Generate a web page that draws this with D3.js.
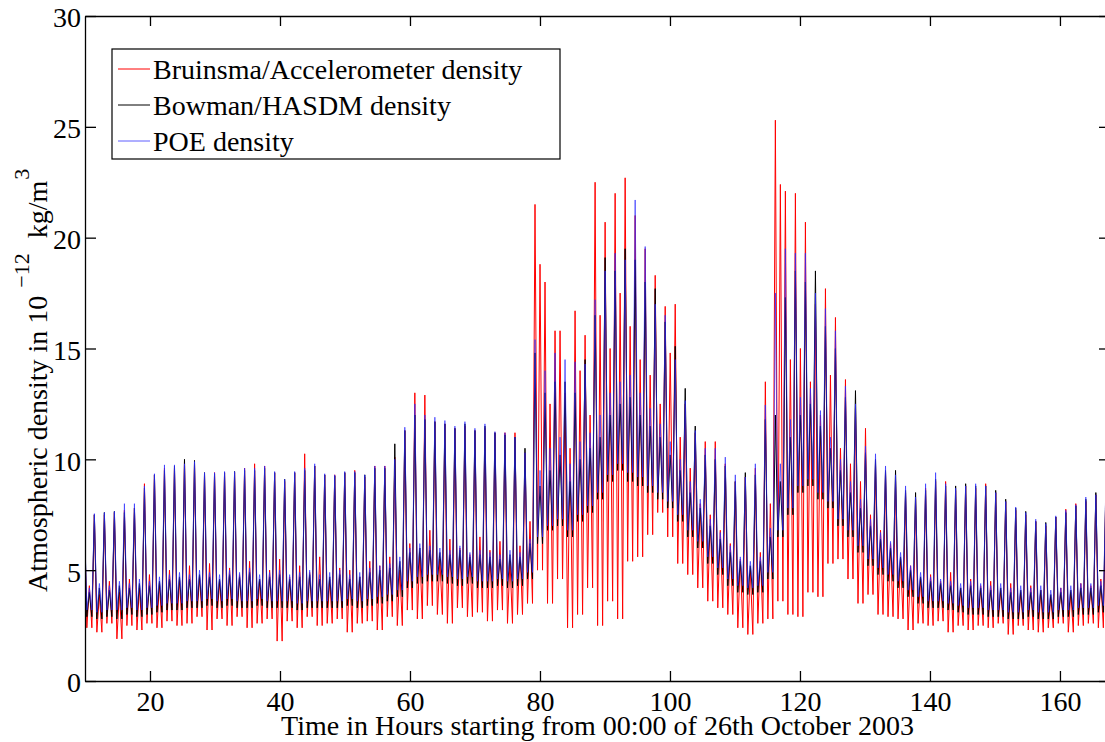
<!DOCTYPE html>
<html>
<head>
<meta charset="utf-8">
<script src="https://cdn.jsdelivr.net/npm/d3@7/dist/d3.min.js"></script>
<style>
  body { margin: 0; background: #fff; }
  svg { display: block; font-family: "Liberation Serif", "Times New Roman", serif; }
  .axis path, .axis line { stroke: #000; stroke-width: 1.3; }
  .axis text { font-size: 28px; fill: #000; font-family: "Liberation Serif", serif; }
</style>
</head>
<body>
<div id="chart"></div>
<script>
// DATA
////////////////////////////
// one value per orbit (CHAMP, ~92 min)
var firstPeak = 9.9,      // hours, time of first orbit peak
    orbitPeriod = 1.5408; // hours

// Bruinsma / accelerometer (red)
var accelPeak = [
  7.5, 7.5, 7.5, 7.6, 7.7, 7.8, 8.9, 9.3, 9.6, 9.6,
  9.9, 9.8, 9.3, 9.4, 9.4, 9.4, 9.6, 9.8, 9.7, 9.4,
  9.0, 9.4, 10.25, 9.7, 9.3, 9.3, 9.4, 9.5, 9.2, 9.7,
  9.7, 10.1, 11.3, 13.0, 12.9, 11.7, 11.6, 11.4, 11.5, 11.3,
  11.4, 11.2, 11.2, 11.2, 10.3, 21.5, 18.0, 15.8, 13.0, 16.7,
  15.6, 22.5, 20.7, 22.0, 22.7, 21.0, 19.5, 18.3, 16.9, 17.0,
  12.5, 11.2, 10.8, 10.8, 9.8, 9.0, 9.2, 9.6, 13.5, 25.3,
  22.1, 22.0, 20.7, 17.0, 17.7, 16.4, 13.6, 12.3, 11.4, 9.8,
  9.4, 9.0, 8.5, 8.2, 8.7, 9.0, 9.0, 8.6, 8.8, 8.7,
  8.9, 8.5, 8.1, 7.7, 7.5, 7.2, 7.0, 7.4, 7.75, 8.0,
  8.1, 8.4, 8.6];
var accelLow = [
  2.4, 2.2, 2.6, 1.9, 2.5, 2.3, 2.6, 2.4, 2.7, 2.5,
  2.6, 2.9, 2.3, 2.8, 2.5, 2.9, 2.4, 2.6, 2.8, 1.8,
  2.7, 2.4, 2.9, 2.5, 2.6, 2.8, 2.2, 2.6, 2.7, 2.3,
  2.9, 2.5, 3.2, 2.8, 3.4, 3.0, 2.6, 3.3, 2.9, 3.1,
  2.7, 3.2, 2.6, 3.0, 3.5, 5.0, 3.5, 4.6, 2.4, 3.0,
  4.2, 2.5, 3.6, 2.8, 5.4, 5.6, 6.6, 7.6, 6.5, 5.3,
  4.8, 4.2, 3.6, 3.3, 3.0, 2.4, 2.1, 2.6, 2.8, 3.6,
  3.0, 2.9, 4.0, 3.8, 5.3, 5.5, 4.6, 3.5, 3.9, 3.0,
  2.9, 2.8, 2.3, 2.6, 2.5, 2.7, 2.2, 2.5, 2.3, 2.5,
  2.4, 2.6, 2.1, 2.5, 2.3, 2.2, 2.4, 2.6, 2.2, 2.5,
  2.6, 2.4, 2.7];
var accelBump = [
  4.3, 3.9, 4.5, 4.0, 4.6, 4.2, 4.8, 4.4, 5.0, 4.6,
  5.2, 4.7, 5.3, 4.5, 5.1, 4.8, 5.4, 4.6, 5.0, 5.5,
  4.7, 5.2, 4.9, 5.6, 4.6, 5.1, 5.0, 4.7, 5.4, 5.2,
  5.6, 5.0, 6.2, 5.8, 6.8, 5.5, 6.4, 6.0, 5.7, 6.5,
  5.9, 6.3, 5.4, 6.1, 7.2, 18.8, 12.5, 15.8, 10.5, 14.0,
  12.0, 16.5, 15.0, 17.5, 16.0, 14.5, 13.8, 12.5, 14.8, 11.0,
  9.6, 8.0, 7.5, 6.8, 6.2, 5.5, 5.0, 5.8, 8.0, 22.4,
  14.5, 15.0, 13.5, 12.0, 13.8, 10.5, 9.8, 9.0, 7.5, 6.8,
  6.2, 5.5, 5.2, 4.6, 4.8, 4.5, 4.9, 4.2, 4.6, 4.3,
  4.5, 4.1, 4.4, 4.0, 4.3, 4.1, 3.8, 4.2, 4.0, 4.4,
  4.3, 4.6, 4.4];

// Bowman / HASDM (black)
var hasdmPeak = [
  7.4, 7.5, 7.6, 7.65, 7.6, 7.8, 8.7, 9.3, 9.5, 9.7,
  10.0, 9.95, 9.4, 9.35, 9.4, 9.45, 9.5, 9.5, 9.6, 9.4,
  9.1, 9.4, 9.5, 9.7, 9.3, 9.25, 9.4, 9.4, 9.3, 9.6,
  9.6, 10.7, 11.3, 12.0, 11.8, 11.7, 11.6, 11.4, 11.6, 11.3,
  11.5, 11.2, 11.1, 11.0, 10.5, 14.8, 13.0, 13.5, 13.5, 13.0,
  14.5, 16.5, 19.1, 18.5, 19.5, 19.0, 18.0, 17.7, 16.2, 15.1,
  13.2, 11.5, 10.2, 10.0, 9.7, 9.0, 9.4, 9.3, 11.8, 12.0,
  17.3, 18.5, 18.0, 18.5, 16.0, 15.0, 12.8, 13.1, 10.3, 10.0,
  9.5, 9.5, 8.6, 8.5, 8.6, 9.1, 8.8, 8.8, 8.9, 8.8,
  8.8, 8.6, 8.2, 7.8, 7.65, 7.2, 7.15, 7.4, 7.6, 7.9,
  8.2, 8.5, 8.7];
var hasdmLow = [
  2.9, 2.8, 2.9, 2.8, 3.0, 2.9, 3.0, 3.1, 3.2, 3.2,
  3.3, 3.3, 3.4, 3.3, 3.4, 3.3, 3.3, 3.4, 3.3, 3.3,
  3.3, 3.2, 3.3, 3.3, 3.3, 3.3, 3.4, 3.3, 3.4, 3.5,
  3.6, 3.8, 4.2, 4.4, 4.5, 4.5, 4.4, 4.3, 4.4, 4.2,
  4.2, 4.3, 4.2, 4.3, 4.6, 6.2, 6.8, 7.0, 6.5, 7.2,
  7.6, 8.2, 9.0, 9.5, 9.0, 8.8, 8.5, 8.2, 7.8, 7.2,
  6.5, 6.0, 5.3, 4.8, 4.3, 4.0, 3.9, 4.0, 4.6, 6.5,
  7.5, 8.5, 8.8, 8.2, 7.8, 7.0, 6.5, 5.8, 5.2, 4.8,
  4.5, 4.2, 3.8, 3.5, 3.3, 3.3, 3.2, 3.1, 3.0, 3.0,
  2.9, 2.9, 2.8, 2.8, 2.9, 2.8, 2.8, 2.9, 2.9, 3.0,
  3.0, 3.1, 3.1];
var hasdmBump = [
  4.0, 4.2, 4.1, 4.3, 4.2, 4.4, 4.3, 4.5, 4.6, 4.7,
  4.6, 4.8, 4.7, 4.6, 4.8, 4.7, 4.9, 4.6, 4.7, 4.8,
  4.6, 4.7, 4.8, 4.6, 4.7, 4.8, 4.6, 4.7, 4.9, 5.0,
  5.1, 5.4, 5.8, 6.0, 5.9, 5.8, 5.7, 5.9, 5.6, 5.7,
  5.6, 5.5, 5.7, 5.6, 6.2, 8.8, 9.5, 10.2, 9.0, 10.0,
  10.5, 11.0, 12.0, 12.5, 12.8, 12.0, 11.5, 11.0, 10.2, 9.5,
  8.5, 7.8, 7.0, 6.4, 5.8, 5.4, 5.2, 5.4, 6.5, 9.0,
  11.0, 12.0, 12.5, 11.5, 10.5, 9.5, 8.5, 7.8, 7.0, 6.4,
  6.0, 5.6, 5.0, 4.7, 4.5, 4.4, 4.3, 4.2, 4.3, 4.2,
  4.1, 4.2, 4.0, 4.1, 4.0, 4.1, 3.9, 4.0, 4.1, 4.2,
  4.2, 4.3, 4.3];

// POE (blue)
var poePeak = [
  7.45, 7.55, 7.6, 7.65, 8.0, 8.0, 8.8, 9.35, 9.75, 9.75,
  9.8, 9.9, 9.4, 9.4, 9.45, 9.45, 9.6, 9.6, 9.7, 9.45,
  9.1, 9.45, 9.6, 9.8, 9.35, 9.3, 9.45, 9.45, 9.3, 9.7,
  9.7, 10.0, 11.45, 12.5, 12.0, 11.9, 11.75, 11.5, 11.7, 11.4,
  11.6, 11.25, 11.2, 11.0, 10.3, 15.4, 14.0, 14.8, 14.5, 14.4,
  14.3, 17.2, 18.5, 19.3, 19.0, 21.7, 19.6, 17.0, 16.5, 14.5,
  12.65, 11.3, 10.5, 10.5, 10.1, 9.3, 9.2, 9.8, 12.45, 17.5,
  19.5, 19.3, 19.3, 17.5, 16.8, 15.8, 13.3, 12.5, 10.6, 10.25,
  9.7, 9.3, 8.8, 8.3, 8.9, 9.4, 8.9, 8.7, 8.8, 8.9,
  8.8, 8.5, 8.1, 7.85, 7.6, 7.3, 7.1, 7.45, 7.7, 7.95,
  8.3, 8.4, 8.8];
var poeLow = [
  3.2, 3.1, 3.2, 3.2, 3.3, 3.2, 3.3, 3.4, 3.5, 3.5,
  3.6, 3.6, 3.7, 3.6, 3.7, 3.6, 3.6, 3.7, 3.6, 3.6,
  3.6, 3.5, 3.6, 3.6, 3.6, 3.6, 3.7, 3.6, 3.7, 3.8,
  3.9, 4.1, 4.5, 4.7, 4.8, 4.8, 4.7, 4.6, 4.7, 4.5,
  4.5, 4.6, 4.5, 4.6, 4.9, 6.5, 7.0, 7.3, 6.8, 7.5,
  7.9, 8.5, 9.3, 9.8, 9.4, 9.2, 8.8, 8.5, 8.1, 7.5,
  6.8, 6.3, 5.6, 5.1, 4.6, 4.3, 4.2, 4.3, 4.9, 6.8,
  7.8, 8.8, 9.1, 8.5, 8.1, 7.3, 6.8, 6.1, 5.5, 5.1,
  4.8, 4.5, 4.1, 3.8, 3.6, 3.6, 3.5, 3.4, 3.3, 3.3,
  3.2, 3.2, 3.1, 3.1, 3.2, 3.1, 3.1, 3.2, 3.2, 3.3,
  3.3, 3.4, 3.4];
var poeBump = [
  4.2, 4.4, 4.3, 4.5, 4.4, 4.6, 4.5, 4.7, 4.8, 4.9,
  4.8, 5.0, 4.9, 4.8, 5.0, 4.9, 5.1, 4.8, 4.9, 5.0,
  4.8, 4.9, 5.0, 4.8, 4.9, 5.0, 4.8, 4.9, 5.1, 5.2,
  5.3, 5.6, 6.0, 6.2, 6.1, 6.0, 5.9, 6.1, 5.8, 5.9,
  5.8, 5.7, 5.9, 5.8, 6.4, 9.5, 10.5, 11.0, 9.8, 10.8,
  11.2, 12.0, 13.0, 13.5, 13.8, 13.0, 12.3, 11.6, 10.8, 10.0,
  9.0, 8.2, 7.3, 6.7, 6.1, 5.6, 5.4, 5.6, 6.9, 9.8,
  11.8, 12.8, 13.2, 12.2, 11.0, 10.0, 9.0, 8.2, 7.3, 6.7,
  6.3, 5.8, 5.2, 4.9, 4.7, 4.6, 4.5, 4.4, 4.5, 4.4,
  4.3, 4.4, 4.2, 4.3, 4.2, 4.3, 4.1, 4.2, 4.3, 4.4,
  4.4, 4.5, 4.5];

var seriesNames = ["Bruinsma/Accelerometer density", "Bowman/HASDM density", "POE density"];
var seriesColors = ["#ff0000", "#000000", "#2a2aff"];
var seriesOpacity = [1, 1, 0.75];
var xTicks = [20, 40, 60, 80, 100, 120, 140, 160];
var yTicks = [0, 5, 10, 15, 20, 25, 30];
var xLabel = "Time in Hours starting from 00:00 of 26th October 2003";

// SETUP
////////////////////////////
var width = 1105, height = 742;
var plotL = 85, plotR = 1110, plotT = 16, plotB = 681;   // right edge falls just off the page

var svg = d3.select("#chart").append("svg")
    .attr("width", width)
    .attr("height", height);

var x = d3.scaleLinear().domain([10, 167.7]).range([plotL, plotR]);
var y = d3.scaleLinear().domain([0, 30]).range([plotB, plotT]);

svg.append("clipPath").attr("id", "plotclip")
  .append("rect")
    .attr("x", plotL).attr("y", plotT)
    .attr("width", plotR - plotL).attr("height", plotB - plotT);

// each orbit: peak, low, mid-orbit bump, low
function orbitPoints(peak, low, bump) {
  var pts = [];
  peak.forEach(function(p, i) {
    var t = firstPeak + i * orbitPeriod;
    pts.push([t, p]);
    pts.push([t + 0.25 * orbitPeriod, low[i]]);
    pts.push([t + 0.5 * orbitPeriod, bump[i]]);
    pts.push([t + 0.75 * orbitPeriod, low[i]]);
  });
  return pts;
}

var series = [
  orbitPoints(accelPeak, accelLow, accelBump),
  orbitPoints(hasdmPeak, hasdmLow, hasdmBump),
  orbitPoints(poePeak, poeLow, poeBump)
];

var line = d3.line()
    .x(function(d) { return x(d[0]); })
    .y(function(d) { return y(d[1]); });

svg.append("g").attr("clip-path", "url(#plotclip)")
  .selectAll("path")
  .data(series)
  .enter().append("path")
    .attr("d", line)
    .attr("fill", "none")
    .attr("stroke", function(d, i) { return seriesColors[i]; })
    .attr("stroke-width", function(d, i) { return i == 2 ? 0.9 : 1; })
    .attr("stroke-opacity", function(d, i) { return seriesOpacity[i]; });

// AXES (matlab box, ticks pointing in)
////////////////////////////
svg.append("g").attr("class", "axis")
    .attr("transform", "translate(0," + plotB + ")")
    .call(d3.axisBottom(x).tickValues(xTicks).tickSizeInner(-10).tickSizeOuter(0).tickPadding(10));

svg.append("g").attr("class", "axis")
    .attr("transform", "translate(0," + plotT + ")")
    .call(d3.axisTop(x).tickValues(xTicks).tickSizeInner(-10).tickSizeOuter(0).tickFormat(""));

svg.append("g").attr("class", "axis")
    .attr("transform", "translate(" + plotL + ",0)")
    .call(d3.axisLeft(y).tickValues(yTicks).tickSizeInner(-11).tickSizeOuter(0).tickPadding(4))
  .selectAll("text").attr("dy", "0.39em");

svg.append("g").attr("class", "axis")
    .attr("transform", "translate(" + plotR + ",0)")
    .call(d3.axisRight(y).tickValues(yTicks).tickSizeInner(-11).tickSizeOuter(0).tickFormat(""));

// LABELS
////////////////////////////
svg.append("text")
    .attr("x", (plotL + plotR) / 2)
    .attr("y", 735)
    .attr("text-anchor", "middle")
    .attr("font-size", 28)
    .text(xLabel);

var ylab = svg.append("text")
    .attr("transform", "translate(47,592) rotate(-90)")
    .attr("text-anchor", "start")
    .attr("font-size", 28);
ylab.append("tspan").text("Atmospheric density in 10");
ylab.append("tspan").attr("dy", -18).attr("dx", 8).attr("font-size", 22).text("\u221212");
ylab.append("tspan").attr("dy", 18).attr("dx", 8).text(" kg/m");
ylab.append("tspan").attr("dy", -18).attr("dx", 1).attr("font-size", 22).text("3");

// LEGEND
////////////////////////////
var legend = svg.append("g").attr("transform", "translate(112,49)");
legend.append("rect")
    .attr("width", 448).attr("height", 110)
    .attr("fill", "#fff").attr("stroke", "#000").attr("stroke-width", 1.2);

var rows = legend.selectAll(".row")
  .data(seriesNames)
  .enter().append("g")
    .attr("transform", function(d, i) { return "translate(0," + (20 + i * 36) + ")"; });
rows.append("line")
    .attr("x1", 6).attr("x2", 38)
    .attr("stroke", function(d, i) { return seriesColors[i]; })
    .attr("stroke-opacity", function(d, i) { return seriesOpacity[i]; })
    .attr("stroke-width", 1);
rows.append("text")
    .attr("x", 41).attr("y", 10)
    .attr("font-size", 28)
    .text(function(d) { return d; });
</script>
</body>
</html>
